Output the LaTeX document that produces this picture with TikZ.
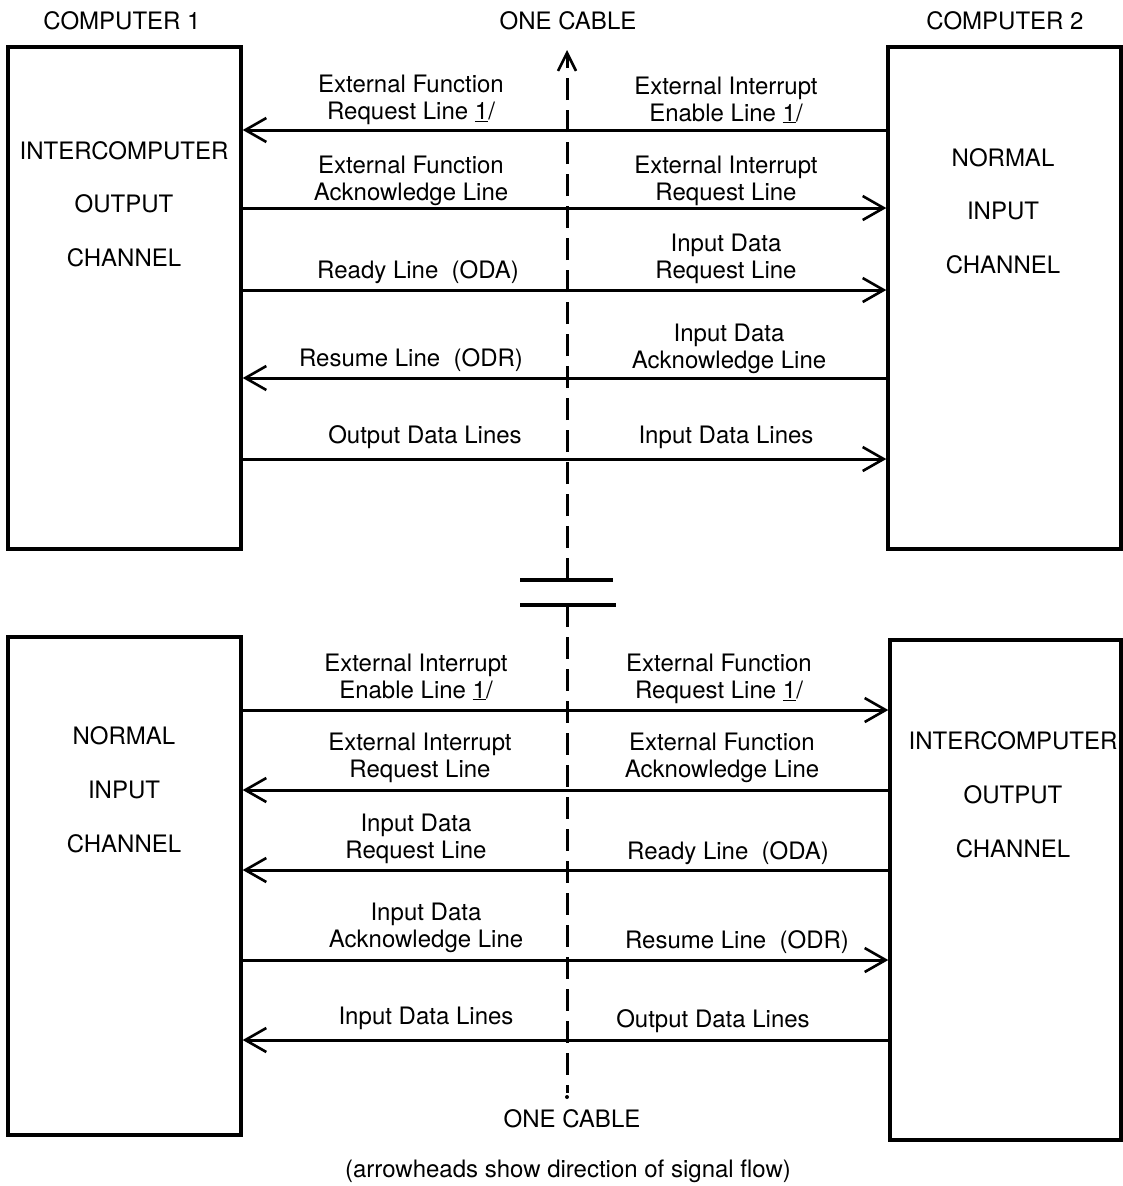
\documentclass[tikz,border=0pt]{standalone}
\usepackage{fontspec}
\setmainfont{TeX Gyre Heros}
\usetikzlibrary{arrows.meta}
\begin{document}
\begin{tikzpicture}[x=1pt,y=-1pt,
  box/.style={draw,line width=3.4pt,minimum width=233pt,inner sep=0pt},
  lbl/.style={align=center,inner sep=0pt,font=\fontsize{24}{26.5}\selectfont,yshift=-2pt},
  sig/.style={line width=3pt,-{Straight Barb[length=21pt,width=24pt,line width=2.6pt]}},
  cable/.style={line width=3pt,dash pattern=on 22pt off 10pt},
  brk/.style={line width=3.4pt}]
\useasboundingbox (0,0) rectangle (1123,1186);

% channel boxes
\node[box,minimum height=502pt] (l1) at (124.5,298) {};
\node[box,minimum height=502pt] (r1) at (1004.5,298) {};
\node[box,minimum height=498pt] (l2) at (124.5,886) {};
\node[box,minimum width=231pt,minimum height=500pt] (r2) at (1005.5,890) {};

% headings
\node[lbl] (h1) at (122,19) {COMPUTER 1};
\node[lbl] (h2) at (568,19) {ONE CABLE};
\node[lbl] (h3) at (1005,19) {COMPUTER 2};
\node[lbl] (h4) at (572,1117) {ONE CABLE};
\node[lbl] (cap) at (568,1169) {(arrowheads show direction of signal flow)};

% box captions
\node[lbl] (t1a) at (124,149) {INTERCOMPUTER};
\node[lbl] (t1b) at (124,202) {OUTPUT};
\node[lbl] (t1c) at (124,256) {CHANNEL};
\node[lbl] (t2a) at (1003,156) {NORMAL};
\node[lbl] (t2b) at (1003,209) {INPUT};
\node[lbl] (t2c) at (1003,263) {CHANNEL};
\node[lbl] (t3a) at (124,734) {NORMAL};
\node[lbl] (t3b) at (124,788) {INPUT};
\node[lbl] (t3c) at (124,842) {CHANNEL};
\node[lbl] (t4a) at (1013,739) {INTERCOMPUTER};
\node[lbl] (t4b) at (1013,793) {OUTPUT};
\node[lbl] (t4c) at (1013,847) {CHANNEL};

% cable with break symbol
\coordinate (cabTop) at (567,50);
\coordinate (brkA) at (567,580);
\coordinate (brkB) at (567,605);
\coordinate (cabBot) at (567,1093);
\coordinate (bA1) at (520,580);
\coordinate (bA2) at (613,580);
\coordinate (bB1) at (520,605);
\coordinate (bB2) at (616,605);
\draw[cable,-{Straight Barb[length=18pt,width=18pt,line width=2.6pt]}] (brkA) -- (cabTop);
\draw[cable] (brkB) -- (cabBot);
\fill (567,1097) circle (2pt);
\draw[brk] (bA1) -- (bA2);
\draw[brk] (bB1) -- (bB2);

% upper interface lines
\draw[sig] (r1.west |- 0,130) -- (l1.east |- 0,130);
\draw[sig] (l1.east |- 0,208) -- (r1.west |- 0,208);
\draw[sig] (l1.east |- 0,290) -- (r1.west |- 0,290);
\draw[sig] (r1.west |- 0,378) -- (l1.east |- 0,378);
\draw[sig] (l1.east |- 0,459) -- (r1.west |- 0,459);

\node[lbl] (u1l) at (411,98) {External Function\\Request Line \underline{1}/};
\node[lbl] (u1r) at (726,98) {External Interrupt\\Enable Line \underline{1}/};
\node[lbl] (u2l) at (411,179) {External Function\\Acknowledge Line};
\node[lbl] (u2r) at (726,179) {External Interrupt\\Request Line};
\node[lbl] (u3l) at (418,270) {Ready Line\ \ (ODA)};
\node[lbl] (u3r) at (726,257) {Input Data\\Request Line};
\node[lbl] (u4l) at (411,358) {Resume Line\ \ (ODR)};
\node[lbl] (u4r) at (729,347) {Input Data\\Acknowledge Line};
\node[lbl] (u5l) at (425,435) {Output Data Lines};
\node[lbl] (u5r) at (726,435) {Input Data Lines};

% lower interface lines
\draw[sig] (l2.east |- 0,710) -- (r2.west |- 0,710);
\draw[sig] (r2.west |- 0,790) -- (l2.east |- 0,790);
\draw[sig] (r2.west |- 0,870) -- (l2.east |- 0,870);
\draw[sig] (l2.east |- 0,960) -- (r2.west |- 0,960);
\draw[sig] (r2.west |- 0,1040) -- (l2.east |- 0,1040);

\node[lbl] (d1l) at (416,675) {External Interrupt\\Enable Line \underline{1}/};
\node[lbl] (d1r) at (719,677) {External Function\\Request Line \underline{1}/};
\node[lbl] (d2l) at (420,756) {External Interrupt\\Request Line};
\node[lbl] (d2r) at (722,756) {External Function\\Acknowledge Line};
\node[lbl] (d3l) at (416,837) {Input Data\\Request Line};
\node[lbl] (d3r) at (728,851) {Ready Line\ \ (ODA)};
\node[lbl] (d4l) at (426,926) {Input Data\\Acknowledge Line};
\node[lbl] (d4r) at (737,940) {Resume Line\ \ (ODR)};
\node[lbl] (d5l) at (426,1016) {Input Data Lines};
\node[lbl] (d5r) at (713,1019) {Output Data Lines};
\end{tikzpicture}
\end{document}
